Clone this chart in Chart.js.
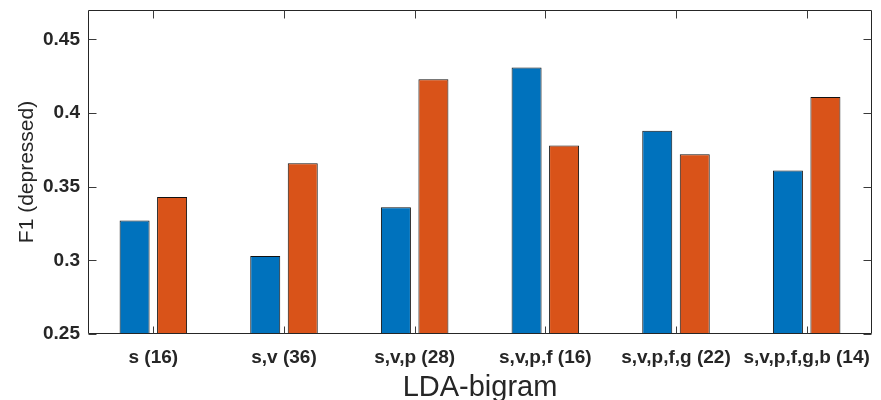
<!DOCTYPE html>
<html>
<head>
<meta charset="utf-8">
<script src="https://cdn.jsdelivr.net/npm/chart.js@4/dist/chart.umd.min.js"></script>
<style>
  html, body { margin: 0; padding: 0; background: #fff; }
  #wrap { width: 881px; height: 400px; position: relative; }
</style>
</head>
<body>
<div id="wrap"><canvas id="c" width="881" height="400"></canvas></div>
<script>
const categories = ["s (16)", "s,v (36)", "s,v,p (28)", "s,v,p,f (16)", "s,v,p,f,g (22)", "s,v,p,f,g,b (14)"];
const seriesBlue = [0.327, 0.303, 0.336, 0.431, 0.388, 0.361];
const seriesOrange = [0.343, 0.366, 0.423, 0.378, 0.372, 0.411];
const yTickValues = [0.25, 0.3, 0.35, 0.4, 0.45];
const yTickLabels = ["0.25", "0.3", "0.35", "0.4", "0.45"];
const xTitle = "LDA-bigram";
const yTitle = "F1 (depressed)";

const AXIS = '#262626';
const FONT = '"Liberation Sans", Arial, Helvetica, sans-serif';

const boxPlugin = {
  id: 'boxPlugin',
  afterDraw(chart) {
    const ctx = chart.ctx;
    const a = chart.chartArea;
    const xs = chart.scales.x, ys = chart.scales.y;
    ctx.save();
    ctx.strokeStyle = AXIS;
    ctx.lineWidth = 1;
    const L = Math.round(a.left) + 0.5, R = Math.round(a.right) - 0.5;
    const T = Math.round(a.top) + 0.5, B = Math.round(a.bottom) - 0.5;
    ctx.beginPath();
    ctx.rect(L, T, R - L, B - T);
    ctx.stroke();
    ctx.strokeStyle = '#3a3a3a';
    ys.ticks.forEach(t => {
      const y = Math.round(ys.getPixelForValue(t.value)) + 0.5;
      ctx.beginPath();
      ctx.moveTo(L, y); ctx.lineTo(L + 8, y);
      ctx.moveTo(R, y); ctx.lineTo(R - 8, y);
      ctx.stroke();
    });
    categories.forEach((c, i) => {
      const x = Math.round(xs.getPixelForValue(i)) + 0.5;
      ctx.beginPath();
      ctx.moveTo(x, B); ctx.lineTo(x, B - 7);
      ctx.moveTo(x, T); ctx.lineTo(x, T + 8);
      ctx.stroke();
    });
    ctx.fillStyle = AXIS;
    ctx.font = '29px ' + FONT;
    ctx.textAlign = 'center';
    ctx.textBaseline = 'alphabetic';
    ctx.fillText(xTitle, (a.left + a.right) / 2, 396);
    ctx.save();
    ctx.translate(33, (a.top + a.bottom) / 2);
    ctx.rotate(-Math.PI / 2);
    ctx.font = '21px ' + FONT;
    ctx.fillText(yTitle, 0, 0);
    ctx.restore();
    ctx.restore();
  }
};

new Chart(document.getElementById('c'), {
  type: 'bar',
  data: {
    labels: categories,
    datasets: [
      { data: seriesBlue, backgroundColor: '#0072BD', borderColor: '#111', borderWidth: 1, borderSkipped: false,
        categoryPercentage: 0.574, barPercentage: 0.8 },
      { data: seriesOrange, backgroundColor: '#D95319', borderColor: '#111', borderWidth: 1, borderSkipped: false,
        categoryPercentage: 0.574, barPercentage: 0.8 }
    ]
  },
  options: {
    responsive: false,
    animation: false,
    devicePixelRatio: 1,
    layout: { padding: { top: 10, right: 9, left: 0, bottom: 0 } },
    plugins: { legend: { display: false }, tooltip: { enabled: false } },
    scales: {
      x: {
        grid: { display: false, drawTicks: false },
        border: { display: false },
        ticks: { color: AXIS, font: { family: FONT, size: 19, weight: 'bold' }, padding: 12, maxRotation: 0, autoSkip: false },
        afterFit(s) { s.height = 66; s.paddingLeft = 0; s.paddingRight = 0; }
      },
      y: {
        min: 0.25, max: 0.47,
        grid: { display: false, drawTicks: false },
        border: { display: false },
        ticks: {
          color: AXIS, font: { family: FONT, size: 19, weight: 'bold' }, padding: 8,
          callback(v) { const i = yTickValues.findIndex(t => Math.abs(t - v) < 1e-9); return i >= 0 ? yTickLabels[i] : ''; }
        },
        afterBuildTicks(s) { s.ticks = yTickValues.map(v => ({ value: v })); },
        afterFit(s) { s.width = 88; s.paddingTop = 0; s.paddingBottom = 0; }
      }
    }
  },
  plugins: [boxPlugin]
});
</script>
</body>
</html>
